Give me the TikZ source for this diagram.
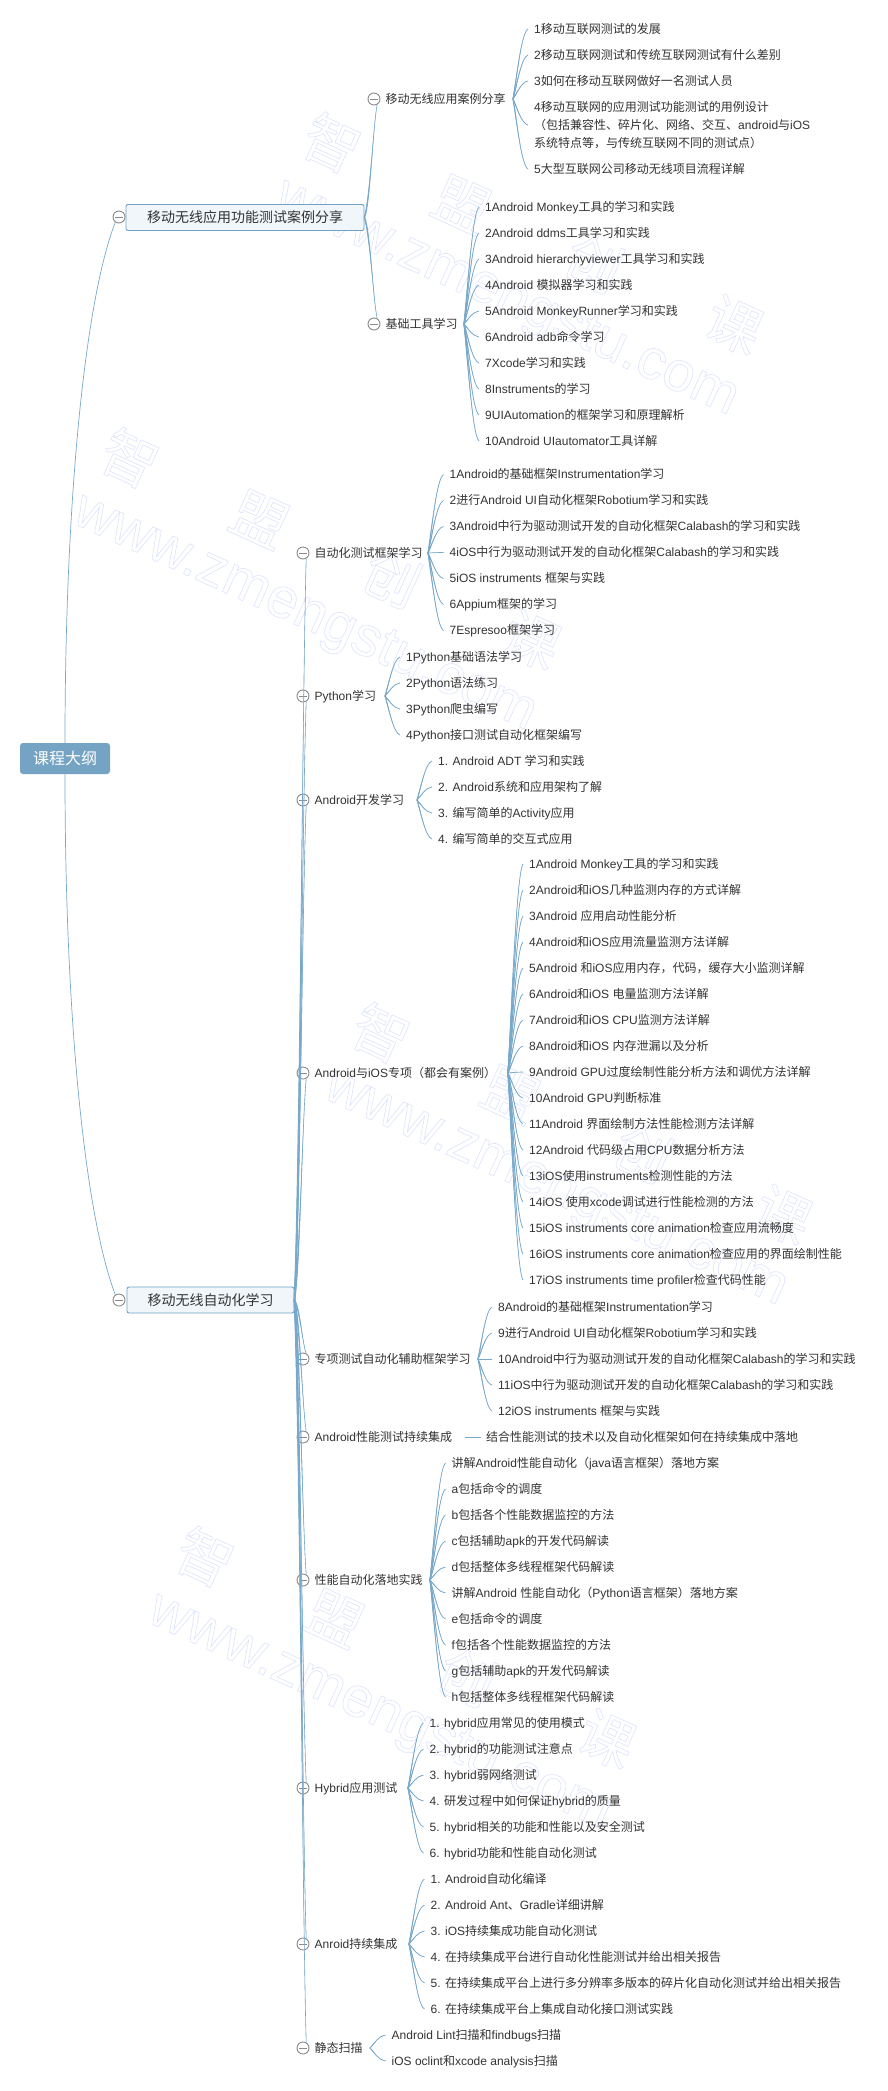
\documentclass[tikz,border=0pt]{standalone}
\usepackage{fontspec}
\usetikzlibrary{calc}
\setmainfont{Liberation Sans}
\newfontfamily\cjkf{Noto Sans CJK SC}
\newXeTeXintercharclass\cjkc
\newcount\cpt
\cpt="4E00 \loop\ifnum\cpt<"A000 \XeTeXcharclass\cpt=\cjkc \advance\cpt 1 \repeat
\cpt="3000 \loop\ifnum\cpt<"3040 \XeTeXcharclass\cpt=\cjkc \advance\cpt 1 \repeat
\cpt="FF00 \loop\ifnum\cpt<"FFF0 \XeTeXcharclass\cpt=\cjkc \advance\cpt 1 \repeat
\XeTeXinterchartoks 0 \cjkc={\begingroup\cjkf}
\XeTeXinterchartoks 4095 \cjkc={\begingroup\cjkf}
\XeTeXinterchartoks \cjkc 0={\endgroup}
\XeTeXinterchartoks \cjkc 4095={\endgroup}
\XeTeXinterchartokenstate=1
\definecolor{linec}{HTML}{78A9CB}
\definecolor{rootc}{HTML}{74A3C3}
\definecolor{boxf}{HTML}{F1F6FA}
\definecolor{boxd}{HTML}{6FA2C6}
\definecolor{txt}{HTML}{333333}
\definecolor{knob}{HTML}{8A8A8A}
\tikzset{
 rootbox/.style={draw=none,fill=rootc,rounded corners=3pt,text=white,minimum width=90pt,minimum height=31pt,inner sep=0pt,font=\fontsize{16}{18}\selectfont},
 topicbox/.style={draw=boxd,fill=boxf,line width=.9pt,rounded corners=2pt,text=txt,minimum height=26pt,inner sep=0pt,font=\fontsize{14}{16}\selectfont},
 knobc/.style={circle,draw=knob,fill=white,line width=.9pt,minimum size=12pt,inner sep=0pt,
   path picture={\draw[knob,line width=.8pt] ([xshift=2pt]path picture bounding box.west)--([xshift=-2pt]path picture bounding box.east);}},
 branchlbl/.style={anchor=west,inner sep=0pt,text=txt,text height=10.4pt,text depth=1.6pt,font=\fontsize{12}{14}\selectfont},
 leaf/.style={anchor=west,inner ysep=0pt,inner xsep=6pt,text=txt,text height=10.4pt,text depth=1.6pt,font=\fontsize{12}{14}\selectfont},
 leafm/.style={anchor=west,inner ysep=0pt,inner xsep=6pt,text=txt,align=left,font=\fontsize{12}{18}\selectfont},
 linework/.style={draw=linec,line width=.7pt},
 taper/.style={fill=linec,draw=none},
 wmk/.style={inner sep=0pt},
}
% fan-style connector: tapered curve, thick at the parent
\newcommand\conn[2]{%
 \fill[taper] let \p1=(#1),\p2=(#2),\n1={\x2-\x1},\n2={\y2-\y1} in
  (\x1-.55pt,\y1) .. controls (\x1-.55pt+.25*\n1,\y1+.3*\n2) and (\x1+.55*\n1,\y1+.95*\n2) .. (\x2,\y2)
  .. controls (\x1+.55*\n1,\y1+.95*\n2) and (\x1+.55pt+.25*\n1,\y1+.3*\n2) .. (\x1+.55pt,\y1) -- cycle;
 \draw[linework] let \p1=(#1),\p2=(#2),\n1={\x2-\x1},\n2={\y2-\y1} in
  (\p1) .. controls (\x1+.25*\n1,\y1+.3*\n2) and (\x1+.55*\n1,\y1+.95*\n2) .. (\p2);}
% long near-vertical connector from a topic to a branch
\newcommand\connv[2]{%
 \fill[taper] let \p1=(#1),\p2=(#2),\n1={\x2-\x1},\n2={\y2-\y1} in
  (\x1-.8pt,\y1) .. controls (\x1-.8pt+.45*\n1,\y1+.15*\n2) and (\x1+.7*\n1,\y1+.85*\n2) .. (\x2,\y2)
  .. controls (\x1+.7*\n1,\y1+.85*\n2) and (\x1+.8pt+.45*\n1,\y1+.15*\n2) .. (\x1+.8pt,\y1) -- cycle;
 \draw[linework,line width=.6pt] let \p1=(#1),\p2=(#2),\n1={\x2-\x1},\n2={\y2-\y1} in
  (\p1) .. controls (\x1+.45*\n1,\y1+.15*\n2) and (\x1+.7*\n1,\y1+.85*\n2) .. (\p2);}
% a fan of leaves 26 apart: name, x of west, y of first, origin, list
\newcommand\fanleaves[5]{%
 \foreach \lbl [count=\ii from 0] in {#5}{%
  \pgfmathsetmacro\yy{#3+26*\ii}
  \node[leaf] (#1\ii) at (#2,\yy) {\lbl};
  \conn{#4}{#1\ii.west}
 }}
% watermark block positioned at its first character
\newcommand\wm[3]{%
 \foreach \ch/\dx/\dy [count=\ii] in {智/0/0,盟/130/61,创/262/120,课/402/182}{%
  \node[wmk,rotate=-24.5] (#1c\ii) at (#2+\dx,#3+\dy) {\special{pdf:code q 1 Tr 0.6 w 0.87 0.89 0.99 RG}\fontsize{56}{58}\selectfont\cjkf\ch\special{pdf:code Q}};
 }
 \node[wmk,rotate=-24.5] (#1u) at (#2+174,#3+157) {\special{pdf:code q 1 Tr 0.6 w 0.87 0.89 0.99 RG}\fontsize{56.5}{58}\selectfont www.zmengstu.com\special{pdf:code Q}};
}
\begin{document}
\begin{tikzpicture}[x=1pt,y=-1pt]
\useasboundingbox[fill=white] (0,0) rectangle (887,2091);
% watermarks
\wm{wa}{332}{143}
\wm{wb}{130}{458}
\wm{wc}{381}{1033}
\wm{wd}{205}{1557}
% root and topics
\node[rootbox] (root) at (65,758.5) {课程大纲};
\node[topicbox,minimum width=238pt] (t1) at (245,217.5) {移动无线应用功能测试案例分享};
\node[topicbox,minimum width=167pt] (t2) at (210.5,1300) {移动无线自动化学习};
\node[knobc] (k1) at (119,217) {};
\node[knobc] (k2) at (119,1300) {};
\draw[linework] (root.north) .. controls (65,500) and (85,300) .. (k1.-125);
\draw[linework] (root.south) .. controls (65,1020) and (85,1215) .. (k2.125);
\coordinate (t1o) at (t1.east);
\coordinate (t2o) at (t2.east);
% branches
\foreach \nm/\xx/\yy/\tx in {
 ka/374/99/移动无线应用案例分享,kb/374/324/基础工具学习,
 kc/303/553/自动化测试框架学习,kd/303/696/Python学习,ke/303/800/Android开发学习,
 kf/303/1073/Android与iOS专项（都会有案例）,kg/303/1359/专项测试自动化辅助框架学习,
 kh/303/1437/Android性能测试持续集成,ki/303/1580/性能自动化落地实践,
 kj/303/1788/Hybrid应用测试,kk/303/1944/Anroid持续集成,kl/303/2048/静态扫描}{%
 \node[knobc] (\nm) at (\xx,\yy) {};
 \node[branchlbl] (\nm t) at (\xx+11.5,\yy) {\tx};
}
\connv{t1o}{ka.-60}
\connv{t1o}{kb.60}
\foreach \nm in {kc,kd,ke,kf}{\connv{t2o}{\nm.-60}}
\foreach \nm in {kg,kh,ki,kj,kk,kl}{\connv{t2o}{\nm.60}}
% fan origins
\coordinate (oa) at (513,99);
\coordinate (ob) at (464,324);
\coordinate (oc) at (428,553);
\coordinate (od) at (385,696);
\coordinate (oe) at (417,800);
\coordinate (of) at (508,1073);
\coordinate (og) at (478,1359);
\coordinate (oh) at (465,1437);
\coordinate (oi) at (430,1580);
\coordinate (oj) at (408,1788);
\coordinate (ok) at (409,1944);
\coordinate (ol) at (370,2048);
% leaves of the first branch
\node[leaf] (la0) at (528,29) {1移动互联网测试的发展};
\node[leaf] (la1) at (528,55) {2移动互联网测试和传统互联网测试有什么差别};
\node[leaf] (la2) at (528,81) {3如何在移动互联网做好一名测试人员};
\node[leafm] (la3) at (528,125) {4移动互联网的应用测试功能测试的用例设计\\（包括兼容性、碎片化、网络、交互、android与iOS\\系统特点等，与传统互联网不同的测试点）};
\node[leaf] (la4) at (528,169) {5大型互联网公司移动无线项目流程详解};
\foreach \ii in {0,...,4}{\conn{oa}{la\ii.west}}
\fanleaves{lb}{479}{207}{ob}{1Android Monkey工具的学习和实践,2Android ddms工具学习和实践,3Android hierarchyviewer工具学习和实践,4Android 模拟器学习和实践,5Android MonkeyRunner学习和实践,6Android adb命令学习,7Xcode学习和实践,8Instruments的学习,9UIAutomation的框架学习和原理解析,10Android UIautomator工具详解}
\fanleaves{lc}{443.5}{474.5}{oc}{1Android的基础框架Instrumentation学习,2进行Android UI自动化框架Robotium学习和实践,3Android中行为驱动测试开发的自动化框架Calabash的学习和实践,4iOS中行为驱动测试开发的自动化框架Calabash的学习和实践,5iOS instruments 框架与实践,6Appium框架的学习,7Espresoo框架学习}
\fanleaves{ld}{400}{657}{od}{1Python基础语法学习,2Python语法练习,3Python爬虫编写,4Python接口测试自动化框架编写}
\fanleaves{le}{432}{761}{oe}{1. Android ADT 学习和实践,2. Android系统和应用架构了解,3. 编写简单的Activity应用,4. 编写简单的交互式应用}
\fanleaves{lf}{523}{864}{of}{1Android Monkey工具的学习和实践,2Android和iOS几种监测内存的方式详解,3Android 应用启动性能分析,4Android和iOS应用流量监测方法详解,5Android 和iOS应用内存，代码，缓存大小监测详解,6Android和iOS 电量监测方法详解,7Android和iOS CPU监测方法详解,8Android和iOS 内存泄漏以及分析,9Android GPU过度绘制性能分析方法和调优方法详解,10Android GPU判断标准,11Android 界面绘制方法性能检测方法详解,12Android 代码级占用CPU数据分析方法,13iOS使用instruments检测性能的方法,14iOS 使用xcode调试进行性能检测的方法,15iOS instruments core animation检查应用流畅度,16iOS instruments core animation检查应用的界面绘制性能,17iOS instruments time profiler检查代码性能}
\fanleaves{lg}{492}{1307}{og}{8Android的基础框架Instrumentation学习,9进行Android UI自动化框架Robotium学习和实践,10Android中行为驱动测试开发的自动化框架Calabash的学习和实践,11iOS中行为驱动测试开发的自动化框架Calabash的学习和实践,12iOS instruments 框架与实践}
\node[leaf,inner xsep=5pt] (lh0) at (481,1437) {结合性能测试的技术以及自动化框架如何在持续集成中落地};
\draw[linework] (oh) -- (lh0.west);
\fanleaves{li}{445.5}{1463}{oi}{讲解Android性能自动化（java语言框架）落地方案,a包括命令的调度,b包括各个性能数据监控的方法,c包括辅助apk的开发代码解读,d包括整体多线程框架代码解读,讲解Android 性能自动化（Python语言框架）落地方案,e包括命令的调度,f包括各个性能数据监控的方法,g包括辅助apk的开发代码解读,h包括整体多线程框架代码解读}
\fanleaves{lj}{423.5}{1723}{oj}{1. hybrid应用常见的使用模式,2. hybrid的功能测试注意点,3. hybrid弱网络测试,4. 研发过程中如何保证hybrid的质量,5. hybrid相关的功能和性能以及安全测试,6. hybrid功能和性能自动化测试}
\fanleaves{lk}{424.5}{1879}{ok}{1. Android自动化编译,2. Android Ant、Gradle详细讲解,3. iOS持续集成功能自动化测试,4. 在持续集成平台进行自动化性能测试并给出相关报告,5. 在持续集成平台上进行多分辨率多版本的碎片化自动化测试并给出相关报告,6. 在持续集成平台上集成自动化接口测试实践}
\fanleaves{ll}{385.5}{2035}{ol}{Android Lint扫描和findbugs扫描,iOS oclint和xcode analysis扫描}
\end{tikzpicture}
\end{document}
